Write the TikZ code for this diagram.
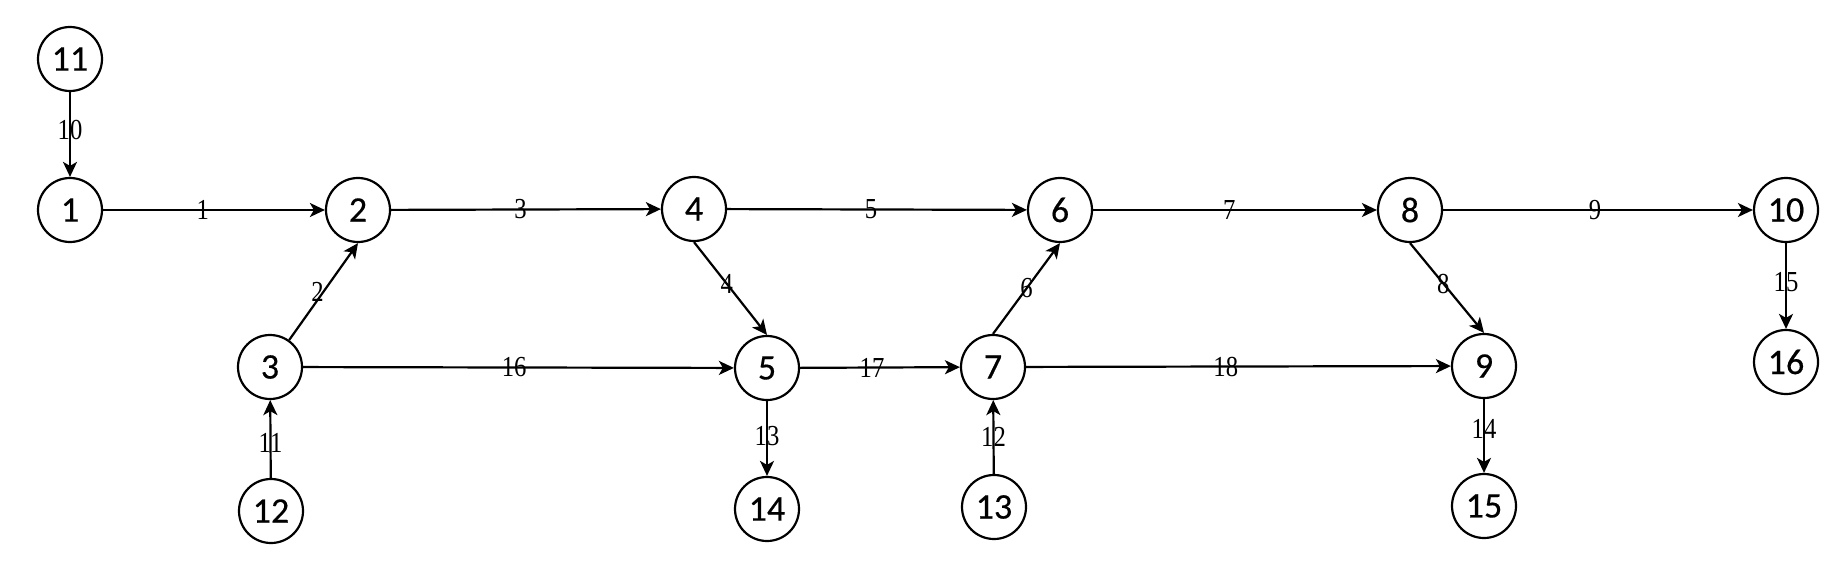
\documentclass[tikz,border=0pt]{standalone}
\usepackage{fontspec}
\newfontfamily\nodefont[FakeBold=0.4]{Carlito}
\newfontfamily\edgefont[FakeStretch=0.85]{Liberation Serif}
\usetikzlibrary{arrows.meta}
\tikzset{
  vertex/.style={circle,draw=black,line width=2.2pt,minimum size=64pt,inner sep=0pt,
    font=\nodefont\fontsize{36}{40}\selectfont},
  edge/.style={line width=2.2pt,-{Stealth[length=15pt,width=14pt,inset=4pt]}},
  elab/.style={font=\edgefont\fontsize{29}{30}\selectfont,inner sep=0pt}
}
\begin{document}
\begin{tikzpicture}[x=1pt,y=-1pt]
\useasboundingbox (0,0) rectangle (1838,564);
\node[vertex] (n11) at (70,59) {11};
\node[vertex] (n1) at (70,210) {1};
\node[vertex] (n2) at (358,210) {2};
\node[vertex] (n3) at (270,367) {3};
\node[vertex] (n12) at (271,511) {12};
\node[vertex] (n4) at (694,209) {4};
\node[vertex] (n5) at (767,368) {5};
\node[vertex] (n14) at (767,509) {14};
\node[vertex] (n6) at (1060,210) {6};
\node[vertex] (n7) at (993,367) {7};
\node[vertex] (n13) at (994,507) {13};
\node[vertex] (n8) at (1410,210) {8};
\node[vertex] (n9) at (1484,366) {9};
\node[vertex] (n15) at (1484,506) {15};
\node[vertex] (n10) at (1786,210) {10};
\node[vertex] (n16) at (1786,362) {16};

\draw[edge] (n11) -- node[elab,pos=0.45] {10} (n1);
\draw[edge] (n1) -- node[elab,pos=0.45] {1} (n2);
\draw[edge] (n3) -- node[elab,pos=0.5,xshift=-6pt] {2} (n2.south);
\draw[edge] (n2) -- node[elab,pos=0.48] {3} (n4);
\draw[edge] (n4.south) -- node[elab,pos=0.45] {4} (n5.north);
\draw[edge] (n4) -- node[elab,pos=0.48] {5} (n6);
\draw[edge] (n7.north) -- node[elab,pos=0.5] {6} (n6.south);
\draw[edge] (n6) -- node[elab,pos=0.48] {7} (n8);
\draw[edge] (n8.south) -- node[elab,pos=0.45] {8} (n9.north);
\draw[edge] (n8) -- node[elab,pos=0.49] {9} (n10);
\draw[edge] (n12) -- node[elab,pos=0.45] {11} (n3);
\draw[edge] (n13) -- node[elab,pos=0.5] {12} (n7);
\draw[edge] (n5) -- node[elab,pos=0.47] {13} (n14);
\draw[edge] (n9) -- node[elab,pos=0.4] {14} (n15);
\draw[edge] (n10) -- node[elab,pos=0.45] {15} (n16);
\draw[edge] (n3) -- node[elab,pos=0.49] {16} (n5);
\draw[edge] (n5) -- node[elab,pos=0.45] {17} (n7);
\draw[edge] (n7) -- node[elab,pos=0.47] {18} (n9);
\end{tikzpicture}
\end{document}
